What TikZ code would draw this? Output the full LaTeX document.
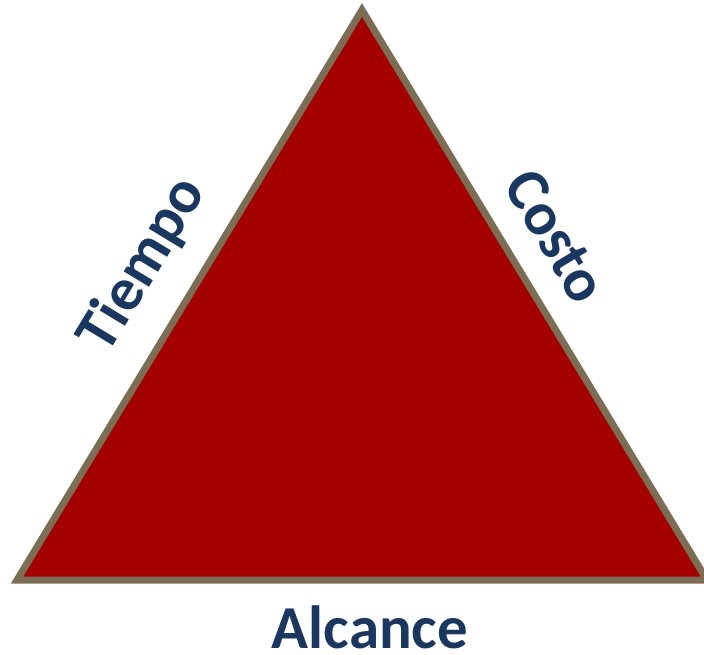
\documentclass[tikz,border=0pt]{standalone}
\usepackage{fontspec}
\setmainfont{Carlito}
\definecolor{tri}{RGB}{165,0,0}
\definecolor{edge}{RGB}{123,110,85}
\definecolor{lab}{RGB}{25,55,95}
\begin{document}
\begin{tikzpicture}[x=1pt,y=-1pt,
  lbl/.style={text=lab,font=\fontsize{61}{63}\selectfont\bfseries,inner sep=0pt}]
\useasboundingbox (0,0) rectangle (704,654);
\begin{scope}
\clip (0,0) rectangle (704,654);
\coordinate (apex) at (362,10);
\coordinate (bl) at (17,580);
\coordinate (br) at (707,580);
\draw[fill=tri,draw=edge,line width=7pt,line join=miter] (apex) -- (br) -- (bl) -- cycle;
\end{scope}
\node[lbl,rotate=58.8] (tiempo) at (143,265) {Tiempo};
\node[lbl,rotate=-58.8] (costo) at (556,236) {Costo};
\node[lbl] (alcance) at (370,627) {Alcance};
\end{tikzpicture}
\end{document}
